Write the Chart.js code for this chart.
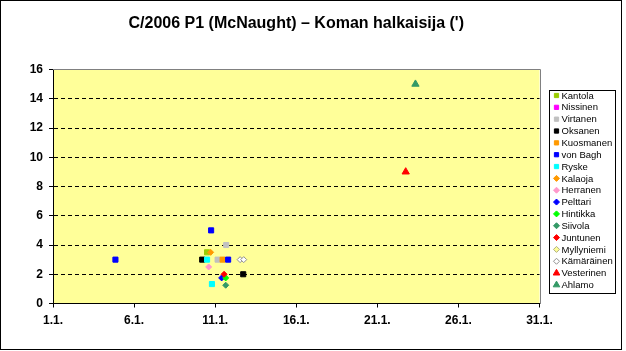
<!DOCTYPE html>
<html>
<head>
<meta charset="utf-8">
<script src="https://cdn.jsdelivr.net/npm/chart.js@4/dist/chart.umd.min.js"></script>
<style>
  html, body { margin: 0; padding: 0; background: #fff; }
  #wrap { width: 626px; height: 351px; }
</style>
</head>
<body>
<div id="wrap"><canvas id="chart" width="626" height="351"></canvas></div>
<script>
const chartTitle = "C/2006 P1 (McNaught) – Koman halkaisija (')";

// observer names, in legend order
const observers = [
  "Kantola", "Nissinen", "Virtanen", "Oksanen", "Kuosmanen", "von Bagh", "Ryske",
  "Kalaoja", "Herranen", "Pelttari", "Hintikka", "Siivola", "Juntunen",
  "Myllyniemi", "Kämäräinen", "Vesterinen", "Ahlamo"
];

// observation dates (day of January) and coma diameters (arcmin) per observer
const obsDays = [
  [10.5], [], [11.15, 11.68], [10.2, 12.73], [11.46], [4.85, 10.75, 11.8], [10.5, 10.8],
  [10.72], [10.6], [11.4], [11.65], [11.65], [11.55],
  [], [12.54, 12.76], [22.75], [23.35]
];
const obsComa = [
  [3.5], [], [3, 4], [3, 2], [3], [3, 5, 3], [3, 1.33],
  [3.5], [2.5], [1.75], [1.75], [1.25], [2],
  [], [3, 3], [9], [15]
];

const dayTicks = [1, 6, 11, 16, 21, 26, 31];
const comaTicks = [0, 2, 4, 6, 8, 10, 12, 14, 16];

// styles
const fills = [
  "#99CC00", "#FF00FF", "#C0C0C0", "#000000", "#FF9900", "#0000FF", "#00FFFF",
  "#FF9900", "#FF99CC", "#0000FF", "#00FF00", "#339966", "#FF0000",
  "#FFFF99", "#FFFFFF", "#FF0000", "#339966"
];
const edges = fills.map((c, i) => i === 13 ? "#B0B080" : i === 14 ? "#909090" : c);
const shapes = observers.map((n, i) => i < 7 ? "rect" : i < 15 ? "rectRot" : "triangle");
const sizes = shapes.map(s => s === "rect" ? 3.6 : s === "rectRot" ? 3 : 4.2);

const datasets = observers.map((name, i) => ({
  label: name,
  data: obsDays[i].map((d, j) => ({ x: d, y: obsComa[i][j] })),
  pointStyle: shapes[i],
  pointRadius: sizes[i],
  pointHoverRadius: sizes[i],
  pointBorderWidth: 1,
  backgroundColor: fills[i],
  borderColor: edges[i],
  order: observers.length - i
}));

const font = "'Liberation Sans', Arial, sans-serif";

const frame = {
  id: "frame",
  beforeDraw(chart) {
    const { ctx, chartArea: a } = chart;
    ctx.save();
    ctx.fillStyle = "#fff";
    ctx.fillRect(0, 0, chart.width, chart.height);
    ctx.fillStyle = "#FFFF99";
    ctx.fillRect(a.left, a.top, a.right - a.left, a.bottom - a.top);
    ctx.restore();
  },
  beforeDatasetsDraw(chart) {
    const { ctx, chartArea: a } = chart;
    ctx.save();
    ctx.strokeStyle = "#808080";
    ctx.lineWidth = 1;
    ctx.beginPath();
    ctx.moveTo(Math.round(a.left), Math.round(a.top) - 0.5);
    ctx.lineTo(Math.round(a.right) + 0.5, Math.round(a.top) - 0.5);
    ctx.lineTo(Math.round(a.right) + 0.5, Math.round(a.bottom));
    ctx.stroke();
    ctx.restore();
  },
  afterDraw(chart) {
    const { ctx } = chart;
    ctx.save();
    // outer border
    ctx.strokeStyle = "#000";
    ctx.lineWidth = 1;
    ctx.strokeRect(0.5, 0.5, 621, 349);
    // legend box
    ctx.strokeRect(549.5, 90.5, 66, 203);
    ctx.font = "9.5px " + font;
    ctx.textBaseline = "middle";
    ctx.textAlign = "left";
    observers.forEach((name, i) => {
      const y = 95.5 + i * 11.84;
      ctx.fillStyle = fills[i];
      ctx.strokeStyle = edges[i];
      ctx.lineWidth = 1;
      Chart.helpers.drawPoint(ctx, {
        pointStyle: shapes[i],
        radius: shapes[i] === "rect" ? 3 : shapes[i] === "rectRot" ? 3 : 3.8,
        borderWidth: 1,
        rotation: 0
      }, 556.5, y);
      ctx.fillStyle = "#000";
      ctx.fillText(name, 561.5, y + 0.5);
    });
    ctx.restore();
  }
};

new Chart(document.getElementById("chart"), {
  type: "scatter",
  data: { datasets },
  options: {
    responsive: false,
    animation: false,
    devicePixelRatio: 1,
    layout: { padding: { top: 0, left: 0, right: 86.5, bottom: 0 } },
    plugins: {
      legend: { display: false },
      tooltip: { enabled: false },
      title: {
        display: true,
        text: chartTitle,
        fullSize: false,
        color: "#000",
        font: { family: font, size: 16, weight: "bold", lineHeight: 1.2 },
        padding: { top: 14, bottom: 36.3 }
      }
    },
    scales: {
      x: {
        type: "linear",
        min: 1,
        max: 31,
        afterBuildTicks: s => { s.ticks = dayTicks.map(v => ({ value: v })); },
        afterFit: s => { s.height = 47.5; },
        grid: { drawOnChartArea: false, tickLength: 4, tickColor: "#000" },
        border: { display: true, color: "#000", width: 1 },
        ticks: {
          color: "#000",
          padding: 6,
          maxRotation: 0,
          font: { family: font, size: 12, weight: "bold" },
          callback: v => v + ".1."
        }
      },
      y: {
        min: 0,
        max: 16,
        afterBuildTicks: s => { s.ticks = comaTicks.map(v => ({ value: v })); },
        afterFit: s => { s.width = 53; },
        grid: {
          color: c => (c.tick && (c.tick.value === 0 || c.tick.value === 16)) ? "rgba(0,0,0,0)" : "#000",
          tickColor: "#000",
          tickLength: 4,
          tickBorderDash: []
        },
        border: { display: true, color: "#000", width: 1, dash: [4, 3] },
        ticks: {
          color: "#000",
          padding: 6,
          font: { family: font, size: 12, weight: "bold" }
        }
      }
    }
  },
  plugins: [frame]
});
</script>
</body>
</html>
